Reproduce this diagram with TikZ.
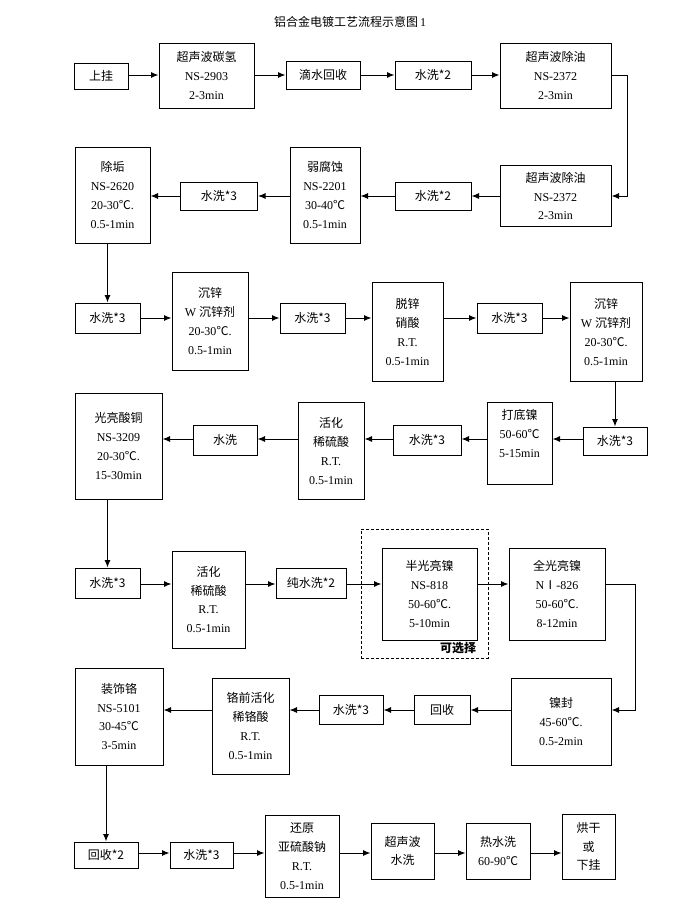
\documentclass[tikz,border=0pt]{standalone}
\usepackage{fontspec}
\setmainfont{Liberation Serif}
\newfontfamily\cjk{Noto Sans CJK SC}
\usetikzlibrary{arrows.meta}
\newcommand\zh[1]{{\cjk #1}}
\begin{document}
\begin{tikzpicture}[x=1pt,y=-1pt,
  box/.style={draw, line width=1pt, align=center, inner sep=0pt, font=\fontsize{12}{18.75}\selectfont},
  conn/.style={line width=1pt, -{Latex[length=7.5pt,width=6pt]}}]
\useasboundingbox (0,0) rectangle (700,916);
\fill[white] (0,0) rectangle (700,916);
\node[font=\fontsize{12}{14}\selectfont] (title) at (350,22) {\zh{铝合金电镀工艺流程示意图}\,1};
% row coordinates
\coordinate (r1) at (0,75);
\coordinate (r2) at (0,196);
\coordinate (r3) at (0,318);
\coordinate (r4) at (0,439);
\coordinate (r5) at (0,584);
\coordinate (r6) at (0,710);
\coordinate (r7) at (0,853);
% row 1
\node[box,minimum width=54,minimum height=26] (a1) at (101,76) {\zh{上挂}};
\node[box,minimum width=95,minimum height=65] (a2) at (206.5,75.5) {\zh{超声波碳氢}\\NS-2903\\2-3min};
\node[box,minimum width=74,minimum height=28] (a3) at (323,75) {\zh{滴水回收}};
\node[box,minimum width=76,minimum height=28] (a4) at (433,75) {\zh{水洗*2}};
\node[box,minimum width=111,minimum height=65] (a5) at (555.5,75.5) {\zh{超声波除油}\\NS-2372\\2-3min};
% row 2
\node[box,minimum width=111,minimum height=61] (b1) at (555.5,196) {\zh{超声波除油}\\NS-2372\\2-3min};
\node[box,minimum width=76,minimum height=28] (b2) at (433,196) {\zh{水洗*2}};
\node[box,minimum width=70,minimum height=96] (b3) at (325,195) {\zh{弱腐蚀}\\NS-2201\\30-40\zh{℃}\\0.5-1min};
\node[box,minimum width=77,minimum height=28] (b4) at (219,196) {\zh{水洗*3}};
\node[box,minimum width=75,minimum height=96] (b5) at (112.5,195) {\zh{除垢}\\NS-2620\\20-30\zh{℃}.\\0.5-1min};
% row 3
\node[box,minimum width=65,minimum height=30] (c1) at (107.5,318) {\zh{水洗*3}};
\node[box,minimum width=76,minimum height=98] (c2) at (210,321) {\zh{沉锌}\\W \zh{沉锌剂}\\20-30\zh{℃}.\\0.5-1min};
\node[box,minimum width=65,minimum height=30] (c3) at (312.5,318) {\zh{水洗*3}};
\node[box,minimum width=71,minimum height=99] (c4) at (407.5,332) {\zh{脱锌}\\\zh{硝酸}\\R.T.\\0.5-1min};
\node[box,minimum width=65,minimum height=30] (c5) at (509.5,318) {\zh{水洗*3}};
\node[box,minimum width=72,minimum height=99] (c6) at (606,332) {\zh{沉锌}\\W \zh{沉锌剂}\\20-30\zh{℃}.\\0.5-1min};
% row 4
\node[box,minimum width=64,minimum height=28] (d1) at (615,441) {\zh{水洗*3}};
\node[box,minimum width=65,minimum height=82] (d2) at (519.5,443) {\zh{打底镍}\\50-60\zh{℃}\\5-15min\\\mbox{}};
\node[box,minimum width=68,minimum height=30] (d3) at (427,440) {\zh{水洗*3}};
\node[box,minimum width=66,minimum height=97] (d4) at (331,451) {\zh{活化}\\\zh{稀硫酸}\\R.T.\\0.5-1min};
\node[box,minimum width=64,minimum height=30] (d5) at (225,440) {\zh{水洗}};
\node[box,minimum width=87,minimum height=106] (d6) at (118.5,446) {\zh{光亮酸铜}\\NS-3209\\20-30\zh{℃}.\\15-30min};
% row 5
\node[box,minimum width=65,minimum height=30] (e1) at (107.5,583) {\zh{水洗*3}};
\node[box,minimum width=73,minimum height=97] (e2) at (208.5,599.5) {\zh{活化}\\\zh{稀硫酸}\\R.T.\\0.5-1min};
\node[box,minimum width=70,minimum height=30] (e3) at (311,583) {\zh{纯水洗*2}};
\node[draw,line width=1pt,dash pattern=on 3pt off 2pt,minimum width=127,minimum height=129,inner sep=0pt] (opt) at (424.5,593.5) {};
\node[box,minimum width=95,minimum height=92] (e4) at (429.5,594) {\zh{半光亮镍}\\NS-818\\50-60\zh{℃}.\\5-10min};
\node[font=\fontsize{12}{14}\selectfont\cjk\bfseries] (optl) at (458,648) {可选择};
\node[box,minimum width=96,minimum height=92] (e5) at (557,594) {\zh{全光亮镍}\\N\zh{Ⅰ}-826\\50-60\zh{℃}.\\8-12min};
% row 6
\node[box,minimum width=100,minimum height=87] (f1) at (561,721.5) {\zh{镍封}\\45-60\zh{℃}.\\0.5-2min};
\node[box,minimum width=56,minimum height=29] (f2) at (442,710) {\zh{回收}};
\node[box,minimum width=64,minimum height=29] (f3) at (351,710) {\zh{水洗*3}};
\node[box,minimum width=77,minimum height=96] (f4) at (250.5,726) {\zh{铬前活化}\\\zh{稀铬酸}\\R.T.\\0.5-1min};
\node[box,minimum width=88,minimum height=97] (f5) at (119,716.5) {\zh{装饰铬}\\NS-5101\\30-45\zh{℃}\\3-5min};
% row 7
\node[box,minimum width=64,minimum height=26] (g1) at (106,855) {\zh{回收*2}};
\node[box,minimum width=63,minimum height=26] (g2) at (201.5,855) {\zh{水洗*3}};
\node[box,minimum width=74,minimum height=82] (g3) at (302,856) {\zh{还原}\\\zh{亚硫酸钠}\\R.T.\\0.5-1min};
\node[box,minimum width=63,minimum height=56] (g4) at (402.5,851) {\zh{超声波}\\\zh{水洗}};
\node[box,minimum width=64,minimum height=56] (g5) at (498,851) {\zh{热水洗}\\60-90\zh{℃}};
\node[box,minimum width=53,minimum height=65] (g6) at (588.5,846.5) {\zh{烘干}\\\zh{或}\\\zh{下挂}};
% turn coordinates
\coordinate (k1) at (627,75);
\coordinate (k2) at (627,196);
\coordinate (k3) at (635,584);
\coordinate (k4) at (635,710);
% connectors row 1
\draw[conn] (a1.east |- r1) -- (a2.west |- r1);
\draw[conn] (a2.east |- r1) -- (a3.west |- r1);
\draw[conn] (a3.east |- r1) -- (a4.west |- r1);
\draw[conn] (a4.east |- r1) -- (a5.west |- r1);
\draw[conn] (a5.east |- r1) -- (k1) -- (k2) -- (b1.east |- r2);
% row 2
\draw[conn] (b1.west |- r2) -- (b2.east |- r2);
\draw[conn] (b2.west |- r2) -- (b3.east |- r2);
\draw[conn] (b3.west |- r2) -- (b4.east |- r2);
\draw[conn] (b4.west |- r2) -- (b5.east |- r2);
\draw[conn] (b5.south -| c1) -- (c1.north);
% row 3
\draw[conn] (c1.east |- r3) -- (c2.west |- r3);
\draw[conn] (c2.east |- r3) -- (c3.west |- r3);
\draw[conn] (c3.east |- r3) -- (c4.west |- r3);
\draw[conn] (c4.east |- r3) -- (c5.west |- r3);
\draw[conn] (c5.east |- r3) -- (c6.west |- r3);
\draw[conn] (c6.south -| d1) -- (d1.north);
% row 4
\draw[conn] (d1.west |- r4) -- (d2.east |- r4);
\draw[conn] (d2.west |- r4) -- (d3.east |- r4);
\draw[conn] (d3.west |- r4) -- (d4.east |- r4);
\draw[conn] (d4.west |- r4) -- (d5.east |- r4);
\draw[conn] (d5.west |- r4) -- (d6.east |- r4);
\draw[conn] (d6.south -| e1) -- (e1.north);
% row 5
\draw[conn] (e1.east |- r5) -- (e2.west |- r5);
\draw[conn] (e2.east |- r5) -- (e3.west |- r5);
\draw[conn] (e3.east |- r5) -- (e4.west |- r5);
\draw[conn] (e4.east |- r5) -- (e5.west |- r5);
\draw[conn] (e5.east |- r5) -- (k3) -- (k4) -- (f1.east |- r6);
% row 6
\draw[conn] (f1.west |- r6) -- (f2.east |- r6);
\draw[conn] (f2.west |- r6) -- (f3.east |- r6);
\draw[conn] (f3.west |- r6) -- (f4.east |- r6);
\draw[conn] (f4.west |- r6) -- (f5.east |- r6);
\draw[conn] (f5.south -| g1) -- (g1.north);
% row 7
\draw[conn] (g1.east |- r7) -- (g2.west |- r7);
\draw[conn] (g2.east |- r7) -- (g3.west |- r7);
\draw[conn] (g3.east |- r7) -- (g4.west |- r7);
\draw[conn] (g4.east |- r7) -- (g5.west |- r7);
\draw[conn] (g5.east |- r7) -- (g6.west |- r7);
\end{tikzpicture}
\end{document}
